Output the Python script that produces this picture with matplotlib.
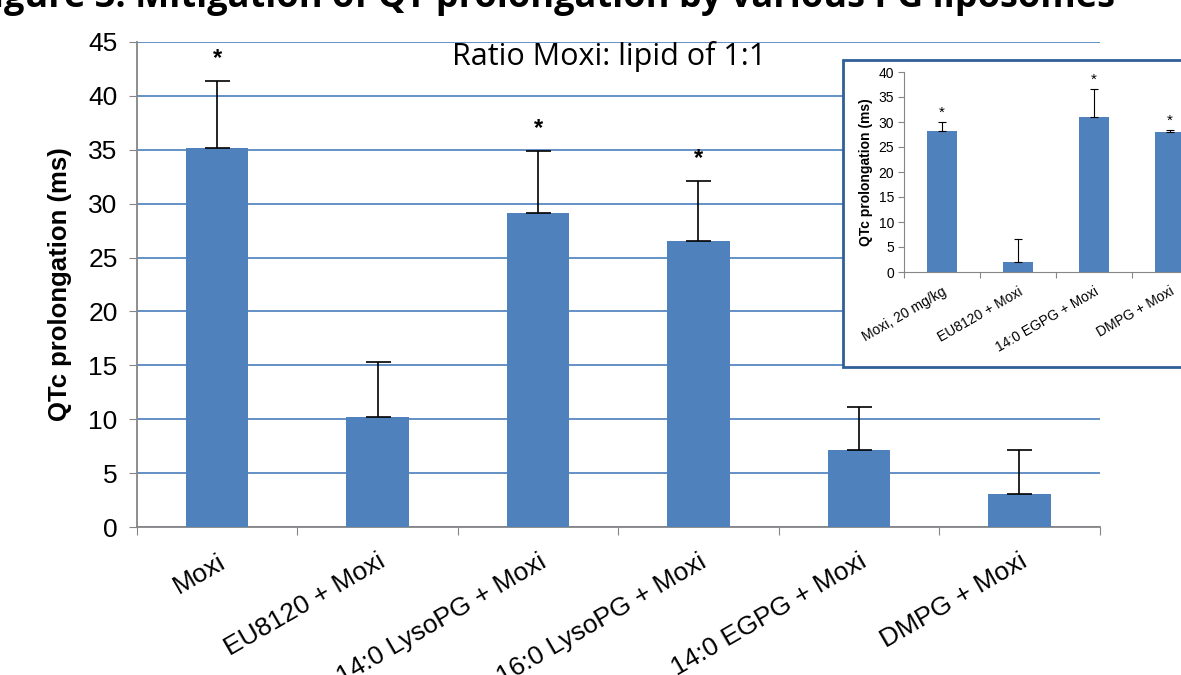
import numpy as np
import matplotlib
matplotlib.use('Agg')
import matplotlib.pyplot as plt
from matplotlib.patches import Rectangle

plt.rcParams['font.family'] = ['Liberation Sans', 'DejaVu Sans']

# main chart data
groups = ['Moxi', 'EU8120 + Moxi', '14:0 LysoPG + Moxi',
          '16:0 LysoPG + Moxi', '14:0 EGPG + Moxi', 'DMPG + Moxi']
qtc = [35.2, 10.2, 29.1, 26.5, 7.2, 3.1]
qtc_err = [6.2, 5.1, 5.8, 5.6, 3.9, 4.1]
signif = [True, False, True, True, False, False]

# inset data
groups_in = ['Moxi, 20 mg/kg', 'EU8120 + Moxi', '14:0 EGPG + Moxi', 'DMPG + Moxi']
qtc_in = [28.3, 2.0, 31.0, 28.1]
qtc_in_err = [1.7, 4.7, 5.6, 0.3]
signif_in = [True, False, True, True]

bar_col = '#4f81bd'
grid_col = '#4a7ebb'
axis_col = '#868686'

fig = plt.figure(figsize=(11.81, 6.75), dpi=100)

# figure title, cut off at the top edge like in the source
fig.text(0.461, 0.9896, 'Figure 3: Mitigation of QT prolongation by various PG liposomes',
         ha='center', va='baseline', fontsize=26, fontweight='bold',
         family=['Open Sans', 'DejaVu Sans'])

ax = fig.add_axes([0.116, 0.219, 0.815, 0.719])
x = np.arange(len(groups))
ax.bar(x, qtc, width=0.39, color=bar_col, zorder=3)
ax.errorbar(x, qtc, yerr=[np.zeros(len(qtc)), qtc_err], fmt='none',
            ecolor='black', elinewidth=1.2, capsize=9, capthick=1.2, zorder=4)
for i in range(len(groups)):
    if signif[i]:
        ax.text(x[i], qtc[i] + qtc_err[i] + 1.0, '*', ha='center', va='bottom',
                fontsize=17, fontweight='bold')

ax.set_xlim(-0.5, len(groups) - 0.5)
ax.set_ylim(0, 45)
ax.set_yticks(np.arange(0, 46, 5))
ax.yaxis.grid(True, color=grid_col, lw=1.2, zorder=0)
ax.set_axisbelow(True)
ax.set_xticks(np.arange(-0.5, len(groups), 1.0))
ax.set_xticklabels([])
ax.set_xticks(x, minor=True)
ax.set_xticklabels(groups, minor=True, rotation=30, ha='right',
                   rotation_mode='anchor', fontsize=19)
ax.tick_params(axis='x', which='minor', length=0, pad=16)
ax.tick_params(axis='x', which='major', length=6, color=axis_col, direction='out')
ax.tick_params(axis='y', labelsize=19, length=6, color=axis_col, pad=8)
for s in ['top', 'right']:
    ax.spines[s].set_visible(False)
ax.spines['left'].set_color(axis_col)
ax.spines['bottom'].set_color(axis_col)
ax.spines['left'].set_linewidth(1.3)
ax.spines['bottom'].set_linewidth(1.3)
ax.set_ylabel('QTc prolongation (ms)', fontsize=18.5, fontweight='bold', labelpad=12)
ax.text(0.491, 0.9526, 'Ratio Moxi: lipid of 1:1', transform=ax.transAxes,
        ha='center', va='baseline', fontsize=22, family=['Open Sans', 'DejaVu Sans'])

# inset box
box = Rectangle((843 / 1181, 1 - 367 / 675), 0.4, (367 - 60) / 675,
                transform=fig.transFigure, facecolor='white',
                edgecolor='#2f5f96', lw=2, zorder=5)
fig.patches.append(box)

axi = fig.add_axes([904 / 1181, 1 - 272 / 675, 304 / 1181, 200 / 675], zorder=6)
axi.patch.set_alpha(0)
xi = np.arange(len(groups_in))
axi.bar(xi, qtc_in, width=0.4, color=bar_col, zorder=3)
axi.errorbar(xi, qtc_in, yerr=[np.zeros(len(qtc_in)), qtc_in_err], fmt='none',
             ecolor='black', elinewidth=0.8, capsize=3, capthick=0.8, zorder=4)
for i in range(len(groups_in)):
    if signif_in[i]:
        axi.text(xi[i], qtc_in[i] + qtc_in_err[i] + 0.4, '*', ha='center',
                 va='bottom', fontsize=11)
axi.set_xlim(-0.5, len(groups_in) - 0.5)
axi.set_ylim(0, 40)
axi.set_yticks(np.arange(0, 41, 5))
axi.set_xticks(np.arange(-0.5, len(groups_in), 1.0))
axi.set_xticklabels([])
axi.set_xticks(xi, minor=True)
axi.set_xticklabels(groups_in, minor=True, rotation=30, ha='right',
                    rotation_mode='anchor', fontsize=10)
axi.tick_params(axis='x', which='minor', length=0, pad=9)
axi.tick_params(axis='x', which='major', length=4, color=axis_col)
axi.tick_params(axis='y', labelsize=10, length=4, color=axis_col, pad=3)
for s in ['top', 'right']:
    axi.spines[s].set_visible(False)
axi.spines['left'].set_color(axis_col)
axi.spines['bottom'].set_color(axis_col)
axi.set_ylabel('QTc prolongation (ms)', fontsize=10, fontweight='bold', labelpad=4)

fig.savefig('out.png', dpi=100)
